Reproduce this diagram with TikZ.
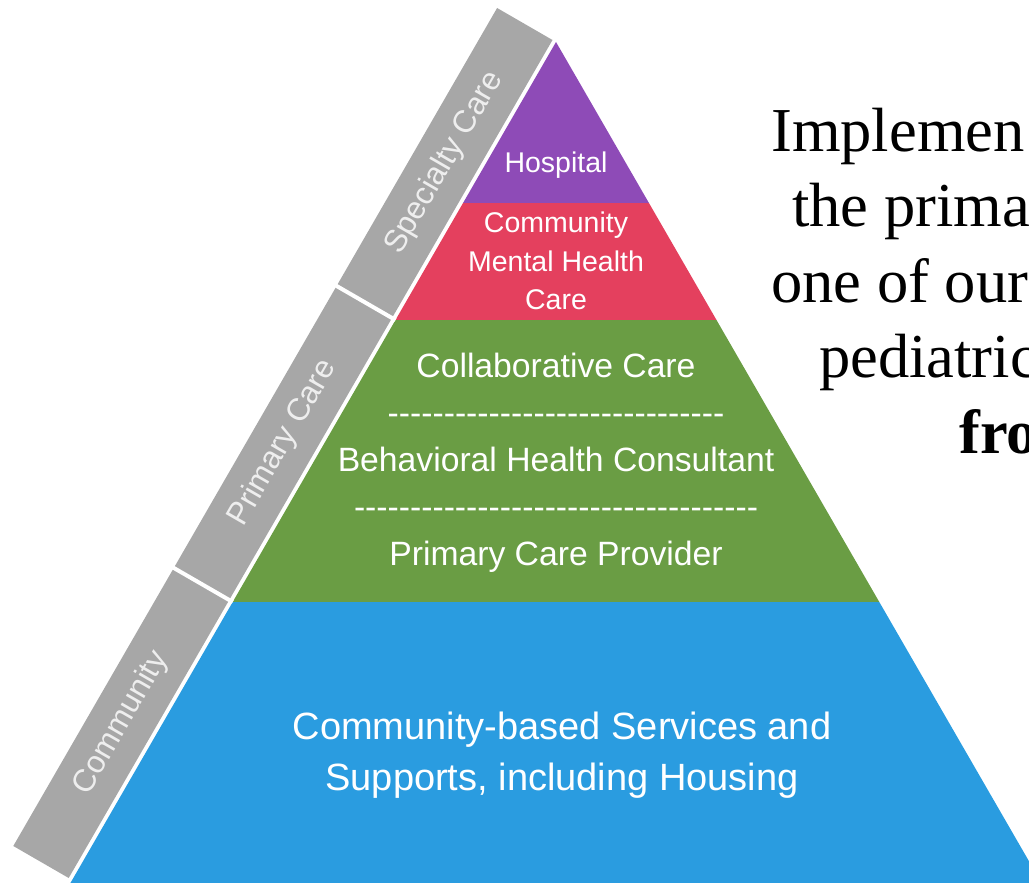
\documentclass[tikz,border=0pt]{standalone}
\usepackage{fontspec}
\setmainfont{Liberation Serif}
\newfontfamily\pyrfont{Liberation Sans}
\usetikzlibrary{calc}
\definecolor{hospcol}{HTML}{8E4BB7}
\definecolor{mentcol}{HTML}{E4405E}
\definecolor{primcol}{HTML}{6A9D44}
\definecolor{commcol}{HTML}{2A9CE0}
\definecolor{barcol}{HTML}{A7A7A7}
\definecolor{bartxt}{HTML}{EEEEEE}
\newcommand{\dashrow}[1]{\foreach \k in {1,...,#1}{-\kern0pt}}

\begin{document}
\begin{tikzpicture}[
    x=1pt, y=-1pt,
    bartext/.style={text=bartxt, font=\pyrfont\fontsize{31.5}{37}\selectfont, rotate=60, inner sep=0pt},
    pyrtext/.style={text=white, align=center, inner sep=0pt, anchor=base},
    sidetext/.style={font=\fontsize{62.5}{75}\selectfont, anchor=base west, inner sep=0pt}
    ]
	\useasboundingbox (0,0) rectangle (1029,883);
	\clip (0,0) rectangle (1029,883);
	\coordinate (apex) at (556,42);
	\coordinate (l1) at (463.05,203);
	\coordinate (r1) at (648.95,203);
	\coordinate (l2) at (395.5,320);
	\coordinate (r2) at (716.5,320);
	\coordinate (l3) at (232.7,602);
	\coordinate (r3) at (879.3,602);
	\coordinate (l4) at (66.4,890);
	\coordinate (r4) at (1045.6,890);
	\coordinate (cb) at (72.2,880);
	\fill[hospcol] (apex) -- (r1) -- (l1) -- cycle;
	\fill[mentcol] (l1) -- (r1) -- (r2) -- (l2) -- cycle;
	\fill[primcol] (l2) -- (r2) -- (r3) -- (l3) -- cycle;
	\fill[commcol] (l3) -- (r3) -- (r4) -- (l4) -- cycle;
	\fill[barcol] ($(apex)+(-3.5,-2)$) -- ($(apex)+(-58.9,-34)$)
		-- ($(cb)+(-58.9,-34)$) -- ($(cb)+(-3.5,-2)$) -- cycle;
	\foreach \p in {l2,l3}
		\draw[white, line width=4pt] (\p) -- ($(\p)+(-62.3,-36)$);
	\node[bartext] (spec) at ($(apex)!0.5!(l2)+(-31.2,-18)$) {Specialty Care};
	\node[bartext] (prim) at ($(l2)!0.5!(l3)+(-31.2,-18)$) {Primary Care};
	\node[bartext] (comm) at ($(l3)!0.5!(cb)+(-31.2,-18)$) {Community};
	\node[pyrtext, font=\pyrfont\fontsize{28.5}{38.5}\selectfont] (hosp) at (556,172) {Hospital};
	\node[pyrtext, font=\pyrfont\fontsize{28.5}{38.5}\selectfont] (cmhc) at (556,309.5)
		{Community\\Mental Health\\Care};
	\node[pyrtext, font=\pyrfont\fontsize{33.7}{47}\selectfont] (collab) at (556,565)
		{Collaborative Care\\\dashrow{30}\\Behavioral Health Consultant\\\dashrow{36}\\Primary Care Provider};
	\node[pyrtext, font=\pyrfont\fontsize{38}{51}\selectfont] (supp) at (562,790)
		{Community-based Services and\\Supports, including Housing};
	\node[sidetext] (s1) at (771,151) {Implemen};
	\node[sidetext] (s2) at (792,226.5) {the prima};
	\node[sidetext] (s3) at (771,302) {one of our};
	\node[sidetext] (s4) at (819,377.5) {pediatric};
	\node[sidetext, font=\fontsize{62.5}{75}\selectfont\bfseries] (s5) at (959,453) {fro};
\end{tikzpicture}
\end{document}
